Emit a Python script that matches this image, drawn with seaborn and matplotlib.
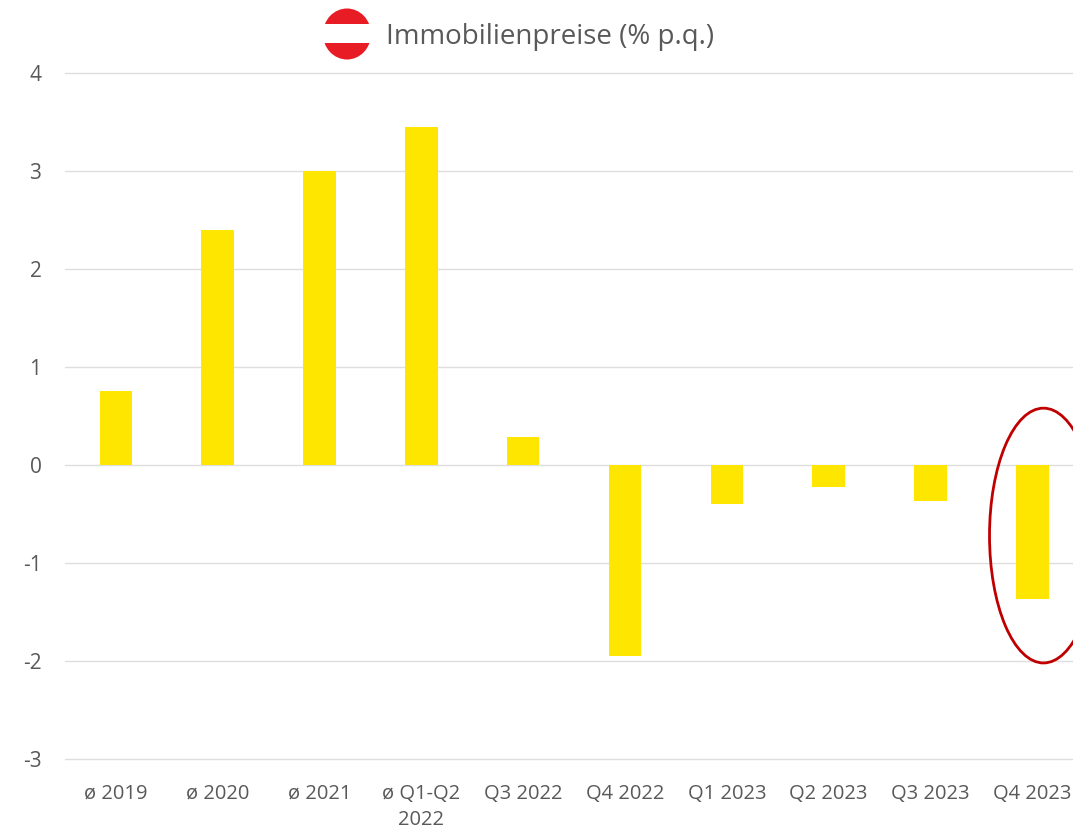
import matplotlib
matplotlib.use("Agg")
import matplotlib.pyplot as plt
import seaborn as sns
import pandas as pd
from matplotlib.patches import Ellipse, Rectangle

categories = ["ø 2019", "ø 2020", "ø 2021", "ø Q1-Q2\n2022", "Q3 2022", "Q4 2022", "Q1 2023", "Q2 2023", "Q3 2023", "Q4 2023"]
values = [0.76, 2.40, 3.00, 3.45, 0.29, -1.95, -0.40, -0.22, -0.37, -1.37]
yticks = [-3, -2, -1, 0, 1, 2, 3, 4]
ytick_labels = ["-3", "-2", "-1", "0", "1", "2", "3", "4"]
title = "Immobilienpreise (% p.q.)"

W, H = 1073, 830
sns.set_theme(style="white")
plt.rcParams['font.family'] = ['Open Sans', 'DejaVu Sans']
fig = plt.figure(figsize=(W/100, H/100), dpi=100)
L, R, T, B = 65, 1073, 73, 759
ax = fig.add_axes([L/W, 1-B/H, (R-L)/W, (B-T)/H])
df = pd.DataFrame({"cat": categories, "val": values})
sns.barplot(data=df, x="cat", y="val", color="#FFE600", saturation=1, width=0.32, linewidth=0, edgecolor="none", ax=ax)
ax.set_xlim(-0.5, 9.4)
ax.set_ylim(-3, 4)
ax.set_yticks(yticks, ytick_labels)
ax.set_xlabel(""); ax.set_ylabel("")
ax.grid(axis="y", color="#DEDEDE", lw=1)
for line in ax.get_ygridlines():
    line.set_clip_on(False)
ax.set_axisbelow(True)
sns.despine(ax=ax, left=True, bottom=True)
ax.tick_params(axis="y", length=0, labelsize=15, labelcolor="#595959", pad=17)
ax.tick_params(axis="x", length=0, labelsize=14.5, labelcolor="#595959", pad=18)
for t in ax.get_xticklabels():
    t.set_linespacing(1.4)

# highlight ellipse, in data coordinates around last bar
ell = Ellipse((9.11, -0.72), width=1.06, height=2.6, fill=False, edgecolor="#C00000", lw=2, clip_on=False)
ax.add_patch(ell)

# title + flag (figure pixel coordinates)
fig.text(386/W, 1-37/H, title, fontsize=20, color="#595959", va="center", ha="left")
fx = fig.add_axes([322/W, 1-60/H, 50/W, 52/H]); fx.set_xlim(0, 50); fx.set_ylim(0, 52); fx.axis("off")
clip = Ellipse((25, 26), 48, 51, transform=fx.transData)
for y, h, c in [(0, 16.5, "#E81C24"), (16.5, 19, "white"), (35.5, 16.5, "#E81C24")]:
    r = Rectangle((0, y), 50, h, color=c, lw=0)
    fx.add_patch(r); r.set_clip_path(clip)

fig.savefig("out.png", dpi=100)
